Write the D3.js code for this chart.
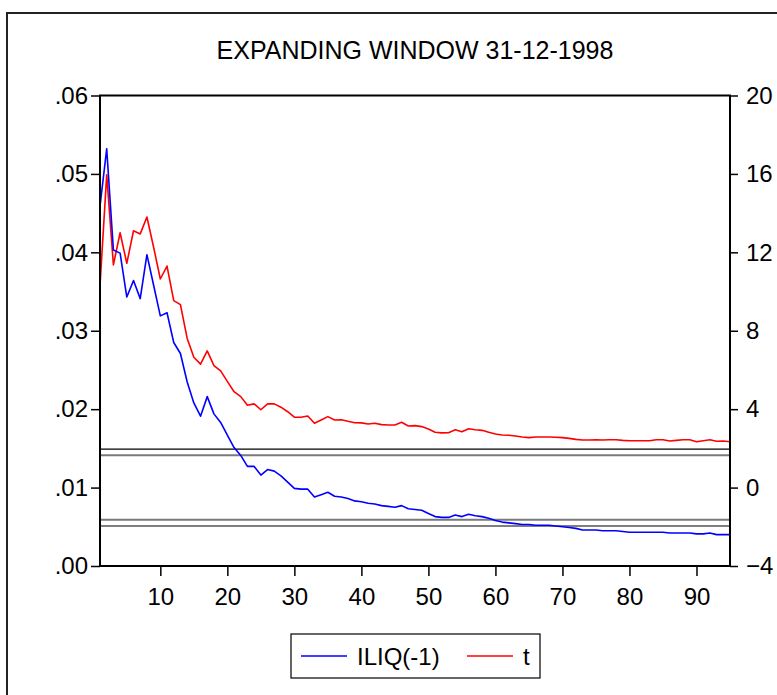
<!DOCTYPE html>
<html>
<head>
<meta charset="utf-8">
<script src="https://cdn.jsdelivr.net/npm/d3@7/dist/d3.min.js"></script>
<style>
  html, body { margin: 0; padding: 0; background: #fff; }
  svg { display: block; }
  text { font-family: Arial, "Liberation Sans", Helvetica, sans-serif; fill: #000; }
</style>
</head>
<body>
<svg id="chart" width="777" height="695"></svg>
<script>
// Observation index of the expanding window (1..95)
const obs = d3.range(1, 96);

// ILIQ(-1) coefficient estimates (left axis)
const iliq = [
  0.0459, 0.0532, 0.0403, 0.0399, 0.0343, 0.0364, 0.0341, 0.0397, 0.0358, 0.0319,
  0.0323, 0.0285, 0.0271, 0.0235, 0.0208, 0.0191, 0.0216, 0.0194, 0.0183, 0.0167,
  0.0151, 0.0141, 0.0127, 0.0127, 0.0116, 0.0123, 0.0121, 0.0115, 0.0107, 0.0099,
  0.0098, 0.0098, 0.0088, 0.0091, 0.0094, 0.0089, 0.0088, 0.0086, 0.0083, 0.0082,
  0.0080, 0.0079, 0.0077, 0.0076, 0.0075, 0.0077, 0.0073, 0.0072, 0.0071, 0.0067,
  0.0063, 0.0062, 0.0062, 0.0065, 0.0063, 0.0066, 0.0064, 0.0063, 0.0061, 0.0058,
  0.0056, 0.0055, 0.0054, 0.0053, 0.0053, 0.0052, 0.0052, 0.0052, 0.0051, 0.0050,
  0.0049, 0.0048, 0.0046, 0.0046, 0.0046, 0.0045, 0.0045, 0.0045, 0.0044, 0.0043,
  0.0043, 0.0043, 0.0043, 0.0043, 0.0043, 0.0042, 0.0042, 0.0042, 0.0042, 0.0041,
  0.0041, 0.0042, 0.0040, 0.0040, 0.0040
];

// t statistics (right axis)
const tstat = [
  10.30, 15.95, 11.36, 13.00, 11.44, 13.10, 12.94, 13.80, 12.26, 10.64,
  11.30, 9.54, 9.33, 7.62, 6.65, 6.30, 6.97, 6.22, 5.95, 5.42,
  4.89, 4.64, 4.20, 4.27, 3.97, 4.27, 4.27, 4.10, 3.87, 3.59,
  3.59, 3.65, 3.28, 3.45, 3.62, 3.45, 3.46, 3.38, 3.31, 3.30,
  3.24, 3.28, 3.21, 3.19, 3.19, 3.33, 3.14, 3.16, 3.11, 2.99,
  2.82, 2.79, 2.80, 2.95, 2.85, 3.00, 2.95, 2.92, 2.82, 2.73,
  2.68, 2.67, 2.63, 2.58, 2.55, 2.58, 2.58, 2.58, 2.57, 2.55,
  2.51, 2.46, 2.43, 2.43, 2.44, 2.43, 2.44, 2.44, 2.41, 2.39,
  2.39, 2.39, 2.39, 2.44, 2.44, 2.38, 2.41, 2.44, 2.44, 2.34,
  2.39, 2.44, 2.36, 2.38, 2.34
];

// Critical values drawn as reference lines on the t axis
const critGray = [1.645, -1.645];
const critBlack = [1.96, -1.96];

// Tick labels
const leftTicks = [0, 0.01, 0.02, 0.03, 0.04, 0.05, 0.06];
const rightTicks = [-4, 0, 4, 8, 12, 16, 20];
const bottomTicks = [10, 20, 30, 40, 50, 60, 70, 80, 90];

const title = "EXPANDING WINDOW 31-12-1998";
const seriesNames = ["ILIQ(-1)", "t"];
const seriesColors = ["#0000ff", "#ff0000"];

const svg = d3.select("#chart");
const plot = { left: 100, right: 730, top: 95.5, bottom: 566 };

const x = d3.scaleLinear().domain([1, 95]).range([plot.left, plot.right]);
const yL = d3.scaleLinear().domain([0, 0.06]).range([plot.bottom, plot.top]);
const yR = d3.scaleLinear().domain([-4, 20]).range([plot.bottom, plot.top]);

// Outer frame of the graph window
svg.append("rect")
  .attr("x", 7).attr("y", 13).attr("width", 790).attr("height", 700)
  .attr("fill", "#fff").attr("stroke", "#222").attr("stroke-width", 2);

// Title
svg.append("text")
  .attr("x", 415).attr("y", 59)
  .attr("text-anchor", "middle")
  .style("font-size", "25px")
  .text(title);

// Reference lines
const refs = svg.append("g");
critGray.forEach(v => {
  refs.append("line")
    .attr("x1", plot.left).attr("x2", plot.right)
    .attr("y1", yR(v)).attr("y2", yR(v))
    .attr("stroke", "#7a7a7a").attr("stroke-width", 2);
});
critBlack.forEach(v => {
  refs.append("line")
    .attr("x1", plot.left).attr("x2", plot.right)
    .attr("y1", yR(v)).attr("y2", yR(v))
    .attr("stroke", "#000").attr("stroke-width", 1.2);
});

// Series lines
const lineL = d3.line().x((d, i) => x(obs[i])).y(d => yL(d));
const lineR = d3.line().x((d, i) => x(obs[i])).y(d => yR(d));

svg.append("path").datum(tstat)
  .attr("d", lineR).attr("fill", "none")
  .attr("stroke", seriesColors[1]).attr("stroke-width", 1.6)
  .attr("stroke-linejoin", "round");
svg.append("path").datum(iliq)
  .attr("d", lineL).attr("fill", "none")
  .attr("stroke", seriesColors[0]).attr("stroke-width", 1.6)
  .attr("stroke-linejoin", "round");

// Axes
const fmtL = v => d3.format(".2f")(v).replace(/^0/, "");

const axL = svg.append("g")
  .attr("transform", `translate(${plot.left},0)`)
  .call(d3.axisLeft(yL).tickValues(leftTicks).tickFormat(fmtL).tickSize(9).tickPadding(3));
const axR = svg.append("g")
  .attr("transform", `translate(${plot.right},0)`)
  .call(d3.axisRight(yR).tickValues(rightTicks).tickFormat(d3.format("d")).tickSize(8).tickPadding(8));
const axB = svg.append("g")
  .attr("transform", `translate(0,${plot.bottom})`)
  .call(d3.axisBottom(x).tickValues(bottomTicks).tickFormat(d3.format("d")).tickSize(10).tickPadding(12));

[axL, axR, axB].forEach(ax => {
  ax.select(".domain").remove();
  ax.selectAll(".tick line").attr("stroke", "#000").attr("stroke-width", 1.5);
  ax.selectAll(".tick text").style("font-size", "24px").style("font-family", "Arial, 'Liberation Sans', sans-serif");
});

// Plot frame
svg.append("rect")
  .attr("x", plot.left).attr("y", plot.top)
  .attr("width", plot.right - plot.left).attr("height", plot.bottom - plot.top)
  .attr("fill", "none").attr("stroke", "#000").attr("stroke-width", 2);

// Legend
const lg = svg.append("g");
lg.append("rect")
  .attr("x", 291).attr("y", 634).attr("width", 249).attr("height", 44)
  .attr("fill", "#fff").attr("stroke", "#000").attr("stroke-width", 1.2);
const legendItems = [
  { name: seriesNames[0], color: seriesColors[0], x0: 301 },
  { name: seriesNames[1], color: seriesColors[1], x0: 467 }
];
legendItems.forEach(it => {
  lg.append("line")
    .attr("x1", it.x0).attr("x2", it.x0 + 46)
    .attr("y1", 656).attr("y2", 656)
    .attr("stroke", it.color).attr("stroke-width", 1.6);
  lg.append("text")
    .attr("x", it.x0 + 56).attr("y", 665)
    .style("font-size", "24px")
    .text(it.name);
});
</script>
</body>
</html>
